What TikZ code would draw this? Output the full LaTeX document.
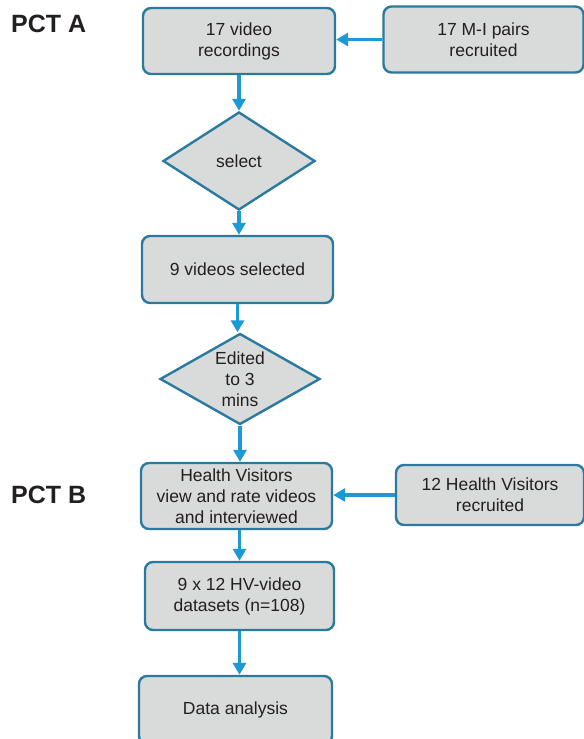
\documentclass[tikz,border=0pt]{standalone}
\usepackage{fontspec}
\setmainfont{Liberation Sans}
\usetikzlibrary{shapes.geometric,arrows.meta}
\definecolor{boxfill}{HTML}{D9DADA}
\definecolor{boxline}{HTML}{2A7AA0}
\definecolor{arrowcol}{HTML}{1B9AD6}
\definecolor{txt}{HTML}{231F20}
\tikzset{
  stepbox/.style={draw=boxline, fill=boxfill, line width=2.4bp, rounded corners=8bp,
    inner sep=0pt, align=center, text=txt,
    font=\fontsize{17.5bp}{21bp}\selectfont},
  decbox/.style={draw=boxline, fill=boxfill, line width=2.4bp, shape=diamond,
    inner sep=0pt, align=center, text=txt,
    font=\fontsize{17.5bp}{21bp}\selectfont},
  flow/.style={draw=arrowcol, line width=3.6bp, -{Triangle[length=12bp,width=13bp]}},
  pct/.style={anchor=west, inner sep=0pt, text=txt, font=\fontsize{25bp}{30bp}\selectfont\bfseries}
}
\begin{document}
\begin{tikzpicture}[x=1bp,y=-1bp]
\useasboundingbox (0,0) rectangle (584,739);
\clip (0,0) rectangle (584,739);
\node[pct] (pa) at (11,24) {PCT A};
\node[pct] (pb) at (11,495) {PCT B};
\node[stepbox, minimum width=192bp, minimum height=66bp] (v17) at (239,41) {17 video\\recordings};
\node[stepbox, minimum width=200bp, minimum height=66bp] (mi) at (483.5,39.5) {17 M-I pairs\\recruited};
\node[decbox, aspect=1.55, minimum width=152bp, minimum height=98bp] (sel) at (239,161) {select};
\node[stepbox, minimum width=191bp, minimum height=67bp] (v9) at (237.5,269.5) {9 videos selected};
\node[decbox, aspect=1.76, minimum width=160bp, minimum height=91bp] (ed) at (240,379) {Edited\\to 3\\mins};
\node[stepbox, minimum width=191bp, minimum height=66bp] (hv) at (236.5,496) {Health Visitors\\view and rate videos\\and interviewed};
\node[stepbox, minimum width=188bp, minimum height=60bp] (hr) at (490,495) {12 Health Visitors\\recruited};
\node[stepbox, minimum width=189bp, minimum height=68bp] (ds) at (239.5,596) {9 x 12 HV-video\\datasets (n=108)};
\node[stepbox, minimum width=193bp, minimum height=68bp] (da) at (235.5,710) {Data analysis};
\draw[flow] (mi.west) -- (mi.west -| v17.east);
\draw[flow] (v17.south) -- (v17.south |- sel.north);
\draw[flow] (sel.south) -- (sel.south |- v9.north);
\draw[flow] (v9.south) -- (v9.south |- ed.north);
\draw[flow] (ed.south) -- (ed.south |- hv.north);
\draw[flow] (hr.west) -- (hr.west -| hv.east);
\draw[flow] (ds.north |- hv.south) -- (ds.north);
\draw[flow] (ds.south) -- (ds.south |- da.north);
\end{tikzpicture}
\end{document}
